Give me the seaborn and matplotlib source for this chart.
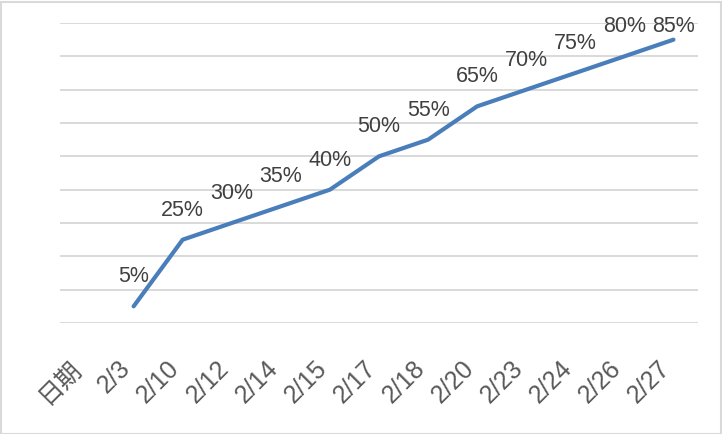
import matplotlib
matplotlib.use("Agg")
import matplotlib.pyplot as plt
import matplotlib.transforms as mtransforms
from matplotlib import font_manager
import seaborn as sns
import pandas as pd
from matplotlib.patches import Rectangle

categories = ["日期", "2/3", "2/10", "2/12", "2/14", "2/15", "2/17", "2/18",
              "2/20", "2/23", "2/24", "2/26", "2/27"]
dates = categories[1:]
values = [5, 25, 30, 35, 40, 50, 55, 65, 70, 75, 80, 85]
labels = [f"{v}%" for v in values]

sns.set_theme(style="white")
plt.rcParams["font.family"] = ["Liberation Sans", "Noto Sans CJK SC", "DejaVu Sans"]

names = {f.name for f in font_manager.fontManager.ttflist}
label_family = "Liberation Sans Narrow" if "Liberation Sans Narrow" in names else "Liberation Sans"
label_size = 17 if label_family == "Liberation Sans Narrow" else 15.5

df = pd.DataFrame({"pos": list(range(1, len(dates) + 1)), "value": values})

DPI = 100
W, H = 722, 434
fig = plt.figure(figsize=(W / DPI, H / DPI), dpi=DPI)
ax = fig.add_axes([60 / W, 1 - 323 / H, 638 / W, 300 / H])

sns.lineplot(data=df, x="pos", y="value", ax=ax, color="#4a7ebb",
             linewidth=3.0, solid_capstyle="round", solid_joinstyle="round")

ax.set_xlim(-0.5, len(categories) - 0.5)
ax.set_ylim(0, 90)

# data labels above points, kept inside the chart area (Excel-like)
for x, y, t in zip(df["pos"], df["value"], labels):
    px_from_top = H - ax.transData.transform((x, y))[1]
    base_from_top = max(px_from_top - 24, 32)
    off_pt = (px_from_top - base_from_top) * 72 / DPI
    ax.annotate(t, (x, y), xytext=(0, off_pt), textcoords="offset points",
                ha="center", va="baseline", fontsize=label_size, color="#404040",
                family=label_family, annotation_clip=False)

ax.set_yticks(range(0, 91, 10))
ax.set_yticklabels([])
ax.yaxis.grid(True, color="#d9d9d9", linewidth=1.4)
ax.xaxis.grid(False)
ax.set_xticks(range(len(categories)))
ax.set_xticklabels(categories, rotation=45, ha="right", va="center",
                   rotation_mode="anchor", fontsize=18, color="#595959")
ax.tick_params(axis="x", length=0, pad=27)
ax.tick_params(axis="y", length=0)
shift = mtransforms.ScaledTranslation(-7 / DPI, -4 / DPI, fig.dpi_scale_trans)
for lbl in ax.get_xticklabels():
    lbl.set_transform(lbl.get_transform() + shift)
ax.set_xlabel("")
ax.set_ylabel("")
for s in ax.spines.values():
    s.set_visible(False)

fig.patches.append(Rectangle((0.5 / W, 0.5 / H), 1 - 2 / W, 1 - 2 / H,
                             transform=fig.transFigure, fill=False,
                             edgecolor="#d9d9d9", linewidth=1.5))

fig.savefig("out.png", dpi=DPI)
